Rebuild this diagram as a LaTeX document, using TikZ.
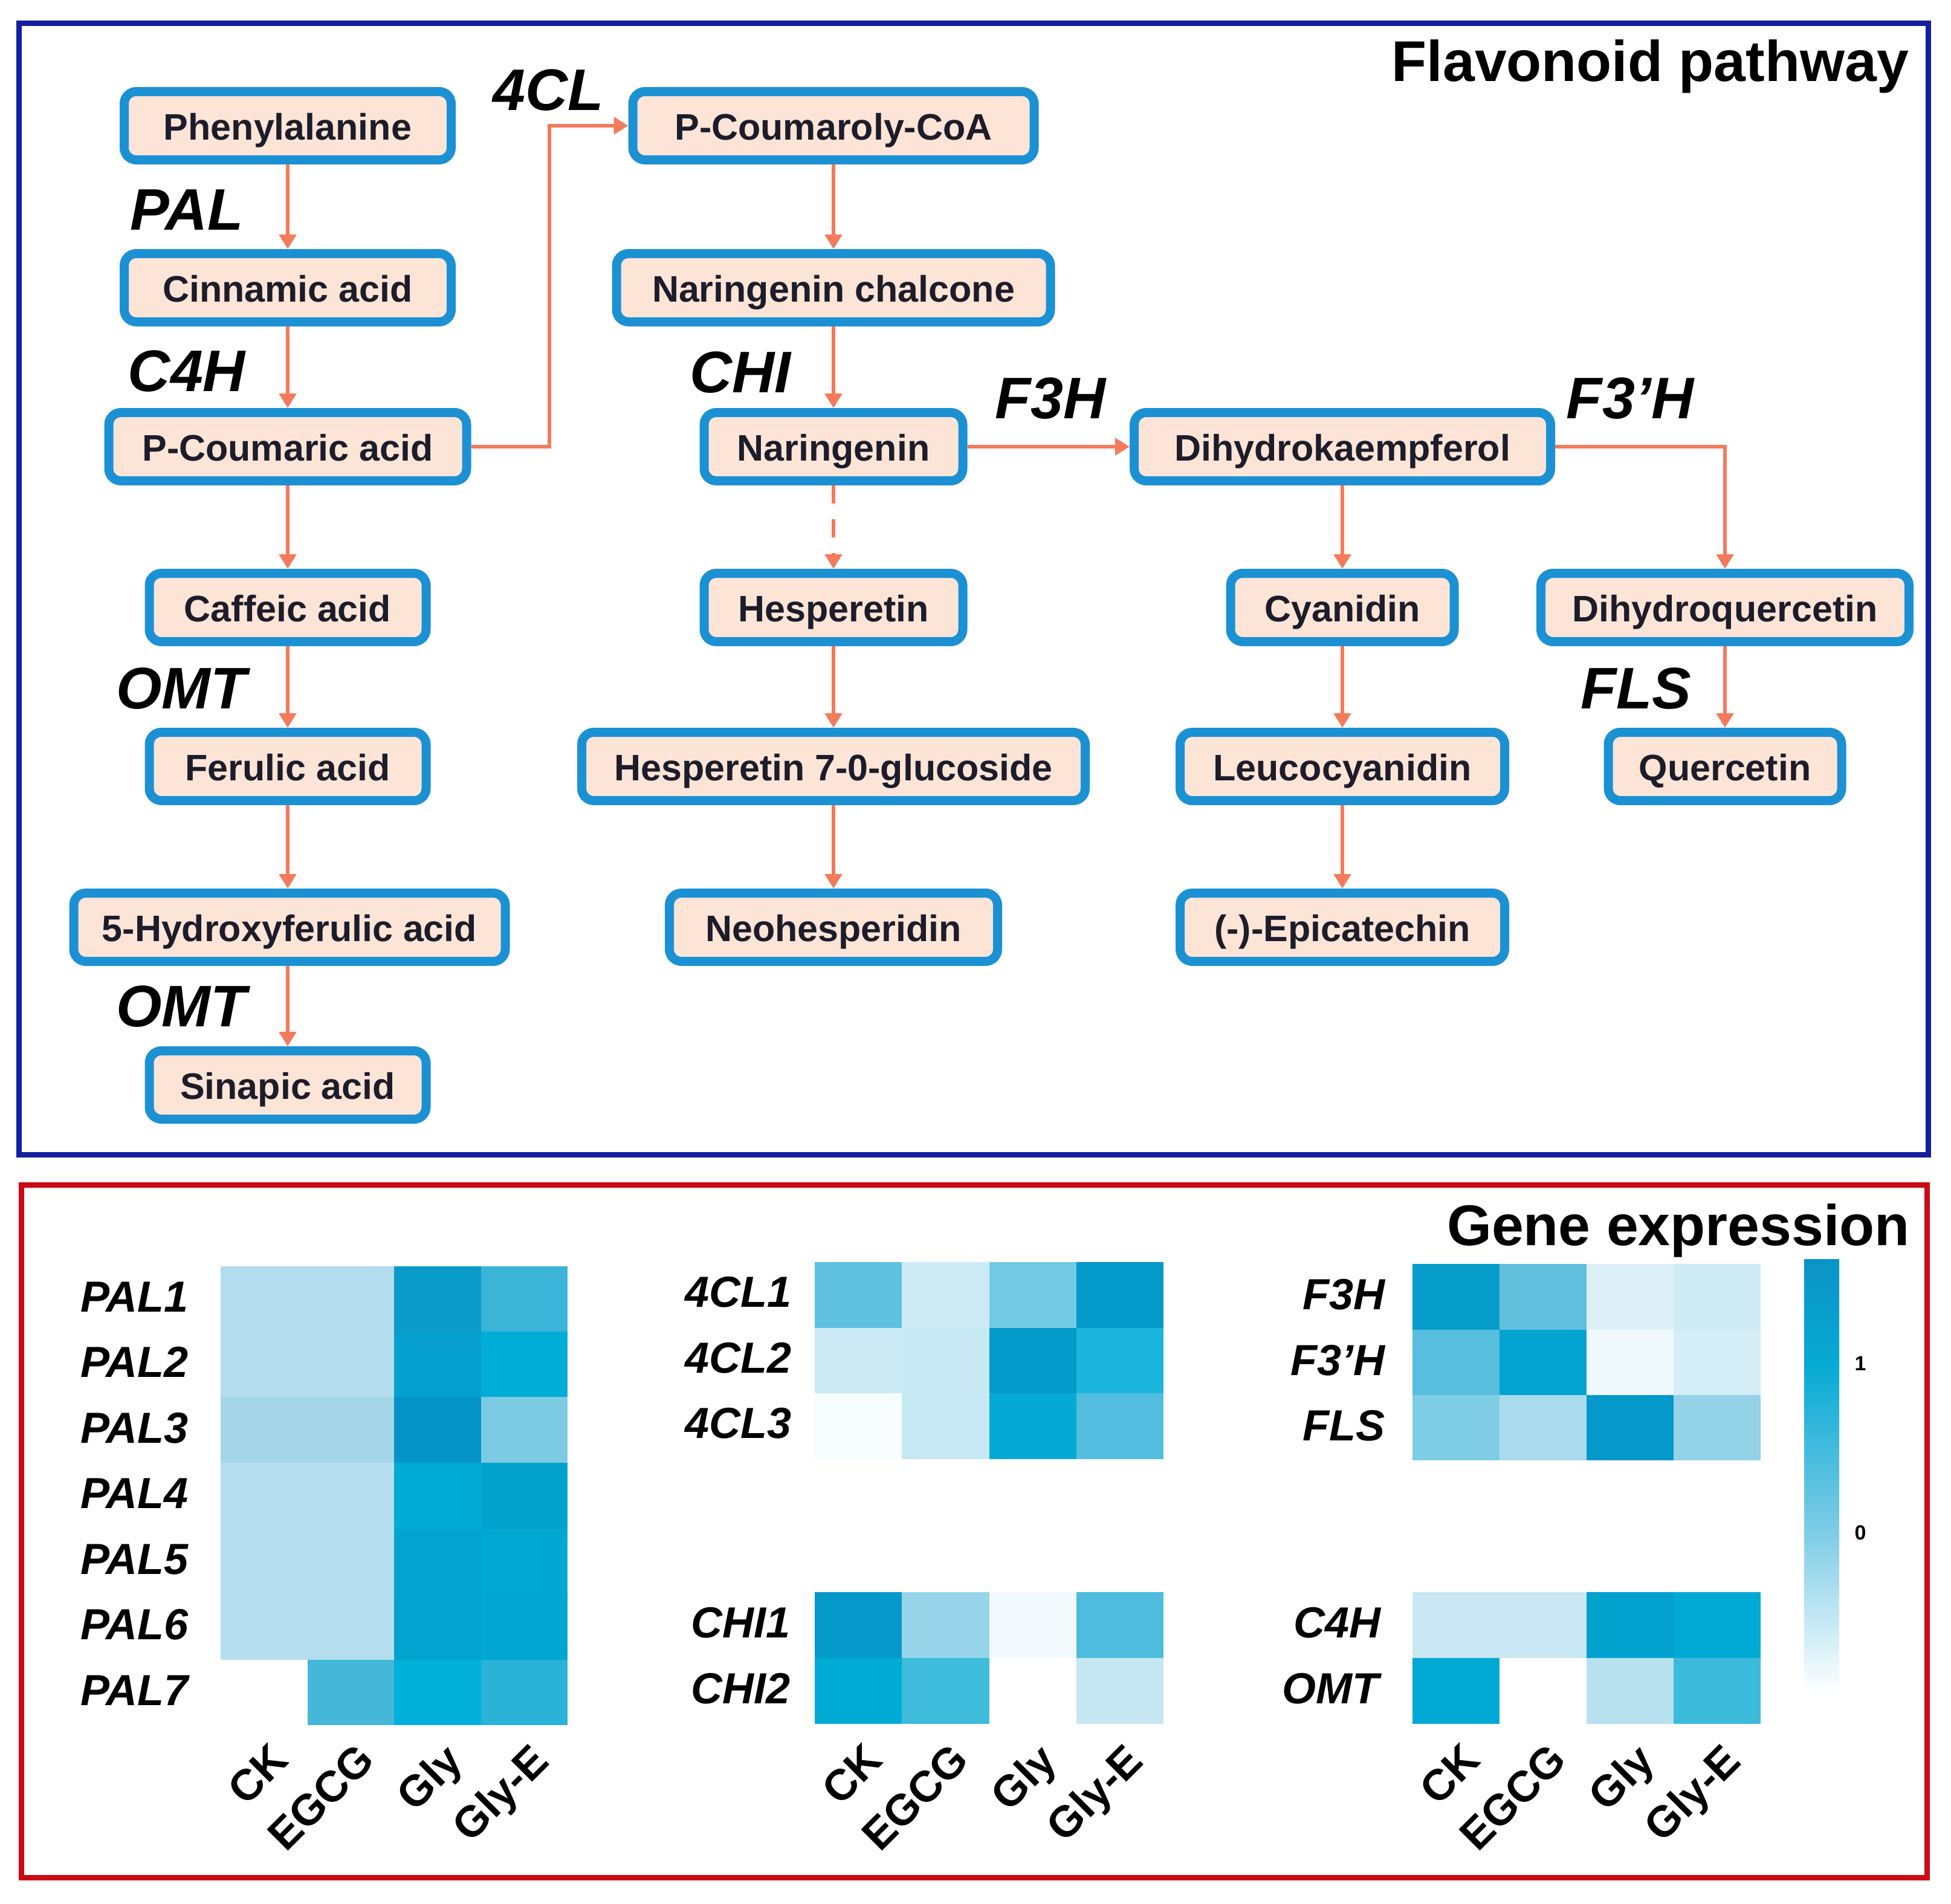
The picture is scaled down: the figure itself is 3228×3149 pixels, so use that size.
\documentclass[tikz,border=0pt]{standalone}
\usepackage{fontspec}
\setmainfont{Liberation Sans}
\usetikzlibrary{arrows.meta,calc}
\definecolor{boxblue}{HTML}{1B91D4}
\definecolor{boxpink}{HTML}{FCE4D6}
\definecolor{arrcol}{HTML}{F47A5C}
\definecolor{txt}{HTML}{1C1C2A}
\definecolor{frameblue}{HTML}{141E9E}
\definecolor{framered}{HTML}{CC0A14}
\definecolor{cbA}{HTML}{0A94C6}
\definecolor{cbB}{HTML}{07AAD4}
\definecolor{cbC}{HTML}{80CDE6}
\newcommand{\hmrow}[5]{\foreach \cc [count=\i from 0] in {#5}{\edef\tmpdef{\noexpand\definecolor{hmc}{HTML}{\cc}}\tmpdef\fill[hmc] ({#1+\i*#2},#3) rectangle ({#1+(\i+1)*#2},#4);}}
\begin{document}
\begin{tikzpicture}[x=1pt,y=-1pt,
  metab/.style={draw=boxblue, line width=15pt, fill=boxpink, rounded corners=20pt, minimum height=113pt, inner sep=0pt, text=txt, text height=47pt, text depth=0pt, font=\fontsize{61}{61}\selectfont\bfseries},
  enz/.style={font=\fontsize{97}{97}\selectfont\bfseries\itshape, inner sep=0pt},
  arr/.style={draw=arrcol, line width=5.5pt, -{Triangle[width=28pt,length=24pt]}},
  gl/.style={font=\fontsize{72}{72}\selectfont\bfseries\itshape, inner sep=0pt, anchor=base east},
  cl/.style={font=\fontsize{72}{72}\selectfont\bfseries, inner sep=0pt, anchor=north east, rotate=45},
  ttl/.style={font=\fontsize{95}{95}\selectfont\bfseries, inner sep=0pt, anchor=base east},
  cbl/.style={font=\fontsize{34}{34}\selectfont\bfseries, inner sep=0pt}
]
\useasboundingbox[fill=white] (0,0) rectangle (3228,3149);
% frames
\draw[frameblue, line width=9pt] (31,38) rectangle (3190,1910);
\draw[framered, line width=9pt] (35,1960) rectangle (3188,3106);
\node[ttl] (t1) at (3158,134) {Flavonoid pathway};
\node[ttl] (t2) at (3160,2060) {Gene expression};
% column 1
\node[metab, minimum width=541pt] (ph) at (476,208) {Phenylalanine};
\node[metab, minimum width=541pt] (ci) at (476,476) {Cinnamic acid};
\node[metab, minimum width=592pt] (pc) at (476,739) {P-Coumaric acid};
\node[metab, minimum width=458pt] (ca) at (476,1005) {Caffeic acid};
\node[metab, minimum width=458pt] (fe) at (476,1268) {Ferulic acid};
\node[metab, minimum width=714pt] (hf) at (479,1534) {5-Hydroxyferulic acid};
\node[metab, minimum width=458pt] (si) at (476,1795) {Sinapic acid};
% column 2
\node[metab, minimum width=664pt] (pcoa) at (1379,208) {P-Coumaroly-CoA};
\node[metab, minimum width=718pt] (nc) at (1379,476) {Naringenin chalcone};
\node[metab, minimum width=428pt] (na) at (1379,739) {Naringenin};
\node[metab, minimum width=428pt] (he) at (1379,1005) {Hesperetin};
\node[metab, minimum width=833pt] (hg) at (1379,1268) {Hesperetin 7-0-glucoside};
\node[metab, minimum width=543pt] (nh) at (1379,1534) {Neohesperidin};
% column 3
\node[metab, minimum width=689pt] (dk) at (2221,739) {Dihydrokaempferol};
\node[metab, minimum width=370pt] (cy) at (2221,1005) {Cyanidin};
\node[metab, minimum width=537pt] (le) at (2221,1268) {Leucocyanidin};
\node[metab, minimum width=537pt] (ep) at (2221,1534) {(-)-Epicatechin};
% column 4
\node[metab, minimum width=609pt] (dq) at (2854,1005) {Dihydroquercetin};
\node[metab, minimum width=386pt] (qu) at (2854,1268) {Quercetin};
% enzyme labels
\node[enz] (ePAL) at (309,347) {PAL};
\node[enz] (eC4H) at (309,614) {C4H};
\node[enz] (e4CL) at (907,149) {4CL};
\node[enz] (eOMT1) at (300,1139) {OMT};
\node[enz] (eOMT2) at (300,1665) {OMT};
\node[enz] (eCHI) at (1225,616) {CHI};
\node[enz] (eF3H) at (1738,659) {F3H};
\node[enz] (eF3pH) at (2697,659) {F3’H};
\node[enz] (eFLS) at (2707,1139) {FLS};
% connectors
\draw[arr] (ph.south) -- (ci.north);
\draw[arr] (ci.south) -- (pc.north);
\draw[arr] (pc.south) -- (ca.north);
\draw[arr] (ca.south) -- (fe.north);
\draw[arr] (fe.south) -- (fe.south |- hf.north);
\draw[arr] (hf.south -| fe.south) -- (si.north);
\coordinate (k4) at (909,208);
\draw[arr] (pc.east) -| (k4) -- (pcoa.west);
\draw[arr] (pcoa.south) -- (nc.north);
\draw[arr] (nc.south) -- (na.north);
\draw[arr, dash pattern=on 30pt off 26pt] (na.south) -- (he.north);
\draw[arr] (he.south) -- (hg.north);
\draw[arr] (hg.south) -- (nh.north);
\draw[arr] (na.east) -- (dk.west);
\draw[arr] (dk.south) -- (cy.north);
\draw[arr] (cy.south) -- (le.north);
\draw[arr] (le.south) -- (ep.north);
\draw[arr] (dk.east) -| (dq.north);
\draw[arr] (dq.south) -- (qu.north);
% heatmap 1 (PAL)
\hmrow{365}{143.5}{2095}{2204}{B3DDEC,B3DDEC,0A9BC8,3BB4D8}
\hmrow{365}{143.5}{2203}{2312}{B3DDEC,B3DDEC,06A0CF,00ADD6}
\hmrow{365}{143.5}{2311}{2421}{A5D6E8,A5D6E8,0594C8,7DCAE3}
\hmrow{365}{143.5}{2420}{2530}{B5DFEE,B5DFEE,00ABD3,02A2CD}
\hmrow{365}{143.5}{2529}{2638}{B5DFEE,B5DFEE,02A4CF,01A8D2}
\hmrow{365}{143.5}{2637}{2747}{B5DFEE,B5DFEE,02A3CE,01A6D1}
\hmrow{365}{143.5}{2746}{2854}{FFFFFF,45B8DA,00B0D8,2AB2D8}
% heatmap 2 (4CL, CHI)
\hmrow{1348}{144.25}{2088}{2198}{5FC1DF,CDEBF4,73CAE3,0399C9}
\hmrow{1348}{144.25}{2197}{2306}{CCEAF4,C8E8F3,029AC8,1BB4DA}
\hmrow{1348}{144.25}{2305}{2414}{F7FCFE,C6E8F3,04AAD3,52BDDE}
\hmrow{1348}{144.25}{2634}{2744}{0499C8,97D4EA,F2FAFD,4DBCDD}
\hmrow{1348}{144.25}{2743}{2852}{00ABD5,3FBCDC,FFFFFF,C6E7F2}
% heatmap 3 (F3H ... OMT)
\hmrow{2337}{144}{2091}{2201}{069DCB,62C0DE,DDF0F8,CFEBF5}
\hmrow{2337}{144}{2200}{2309}{57BFDD,03A3D0,F0F9FC,D5EDF6}
\hmrow{2337}{144}{2308}{2416}{7FCCE5,AADCEE,0598CA,94D2E8}
\hmrow{2337}{144}{2634}{2744}{C9E8F3,C9E8F3,03A1CE,00AAD4}
\hmrow{2337}{144}{2743}{2852}{01A9D4,FFFFFF,B8E1EF,3DBBDC}
% row labels
\node[gl] (gP1) at (312,2170) {PAL1};
\node[gl] (gP2) at (312,2278) {PAL2};
\node[gl] (gP3) at (312,2387) {PAL3};
\node[gl] (gP4) at (312,2495) {PAL4};
\node[gl] (gP5) at (312,2604) {PAL5};
\node[gl] (gP6) at (312,2712) {PAL6};
\node[gl] (gP7) at (312,2821) {PAL7};
\node[gl] (g41) at (1310,2162) {4CL1};
\node[gl] (g42) at (1310,2271) {4CL2};
\node[gl] (g43) at (1310,2379) {4CL3};
\node[gl] (gC1) at (1308,2709) {CHI1};
\node[gl] (gC2) at (1308,2818) {CHI2};
\node[gl] (gF1) at (2292,2166) {F3H};
\node[gl] (gF2) at (2292,2275) {F3’H};
\node[gl] (gF3) at (2292,2383) {FLS};
\node[gl] (gC4) at (2285,2709) {C4H};
\node[gl] (gOM) at (2282,2818) {OMT};
% column labels
\foreach \xx/\nm in {365/a,1348/b,2337/c}{
  \node[cl] (ck\nm) at (\xx+80,2880) {CK};
  \node[cl] (eg\nm) at (\xx+223,2880) {EGCG};
  \node[cl] (gy\nm) at (\xx+367,2880) {Gly};
  \node[cl] (ge\nm) at (\xx+510,2880) {Gly-E};
}
% colour bar
\shade[top color=cbA, bottom color=cbB] (2985,2083) rectangle (3043,2260);
\shade[top color=cbB, bottom color=cbC] (2985,2259) rectangle (3043,2540);
\shade[top color=cbC, bottom color=white] (2985,2539) rectangle (3043,2800);
\node[cbl] (cb1) at (3078,2256) {1};
\node[cbl] (cb0) at (3078,2536) {0};
\end{tikzpicture}
\end{document}
